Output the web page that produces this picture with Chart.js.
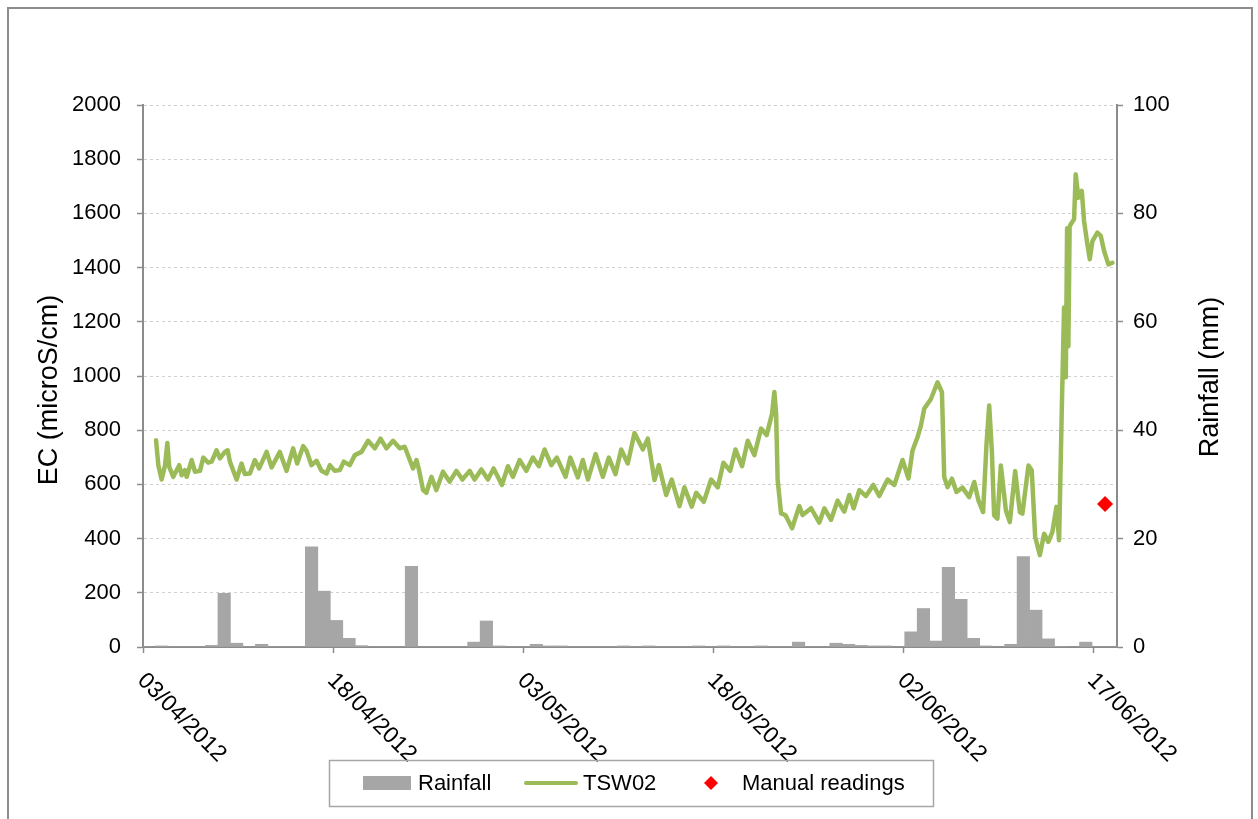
<!DOCTYPE html>
<html>
<head>
<meta charset="utf-8">
<title>TSW02 EC and rainfall</title>
<script src="https://cdn.jsdelivr.net/npm/chart.js@4.4.1/dist/chart.umd.min.js"></script>
<style>
  html, body { margin: 0; padding: 0; background: #fff; }
  #wrap { width: 1258px; height: 819px; position: relative; }
</style>
</head>
<body>
<div id="wrap"><canvas id="chart" width="1258" height="819"></canvas></div>
<script>
// ---- data -------------------------------------------------------------
// Date axis: days counted from 03/04/2012 00:00, one tick label every 15 days.
const tickStep = 15;
const tickLabels = ['03/04/2012', '18/04/2012', '03/05/2012', '18/05/2012', '02/06/2012', '17/06/2012'];
const axisEndDay = 76.89;

// Daily rainfall (mm), 03/04/2012 .. 19/06/2012
const rainfall = [
  0, 0.2, 0, 0, 0, 0.3, 9.9, 0.7, 0, 0.5,
  0, 0, 0, 18.5, 10.3, 4.9, 1.6, 0.25, 0, 0,
  0, 14.9, 0, 0, 0, 0, 0.9, 4.8, 0.2, 0,
  0, 0.5, 0.2, 0.2, 0, 0, 0, 0, 0.2, 0,
  0.2, 0, 0, 0, 0.2, 0, 0.2, 0, 0, 0.2,
  0, 0, 0.9, 0, 0, 0.7, 0.5, 0.3, 0.2, 0.2,
  0, 2.8, 7.1, 1.1, 14.7, 8.8, 1.6, 0.2, 0, 0.5,
  16.7, 6.8, 1.5, 0.1, 0, 0.9, 0, 0
];

// TSW02 logger: time (days from 03/04/2012) and EC (microS/cm)
const tswDay = [
  1.03, 1.21, 1.47, 1.74, 1.92, 2.07, 2.39, 2.86, 3.05, 3.31,
  3.45, 3.84, 4.10, 4.50, 4.76, 5.15, 5.42, 5.81, 6.07, 6.47,
  6.68, 6.86, 7.39, 7.78, 8.04, 8.44, 8.83, 9.17, 9.76, 10.15,
  10.80, 11.33, 11.85, 12.17, 12.64, 12.91, 13.30, 13.70, 14.09, 14.49,
  14.75, 15.14, 15.54, 15.85, 16.32, 16.72, 17.25, 17.77, 18.30, 18.75,
  19.22, 19.74, 20.27, 20.66, 21.06, 21.32, 21.59, 21.79, 22.11, 22.37,
  22.77, 23.16, 23.68, 24.21, 24.74, 25.21, 25.79, 26.18, 26.71, 27.23,
  27.68, 28.34, 28.81, 29.20, 29.73, 30.26, 30.78, 31.25, 31.70, 32.23,
  32.67, 33.36, 33.73, 34.33, 34.72, 35.12, 35.73, 36.30, 36.77, 37.30,
  37.75, 38.27, 38.80, 39.46, 39.85, 40.12, 40.38, 40.72, 41.30, 41.74,
  42.35, 42.74, 43.32, 43.67, 44.27, 44.85, 45.37, 45.82, 46.35, 46.77,
  47.29, 47.74, 48.26, 48.79, 49.23, 49.66, 49.84, 49.98, 50.10, 50.37,
  50.71, 51.24, 51.81, 52.07, 52.74, 53.39, 53.79, 54.31, 54.83, 55.36,
  55.76, 56.10, 56.55, 57.07, 57.65, 58.12, 58.78, 59.31, 59.96, 60.43,
  60.75, 61.14, 61.41, 61.67, 62.20, 62.72, 63.07, 63.25, 63.51, 63.86,
  64.22, 64.69, 65.22, 65.62, 65.95, 66.32, 66.59, 66.80, 67.01, 67.19,
  67.45, 67.72, 68.12, 68.43, 68.85, 69.22, 69.42, 69.90, 70.16, 70.43,
  70.80, 71.14, 71.47, 71.79, 72.11, 72.32, 72.53, 72.71, 72.85, 72.95,
  73.05, 73.15, 73.24, 73.50, 73.63, 73.84, 74.11, 74.29, 74.55, 74.74,
  74.95, 75.34, 75.61, 75.87, 76.21, 76.53
];
const tswEC = [
  763, 671, 618, 671, 753, 665, 628, 671, 634, 653,
  628, 690, 647, 650, 699, 680, 684, 726, 696, 720,
  726, 684, 618, 677, 638, 640, 690, 659, 720, 663,
  720, 650, 733, 677, 741, 724, 671, 687, 650, 640,
  671, 650, 653, 684, 671, 708, 720, 761, 733, 769,
  733, 761, 733, 739, 690, 659, 690, 653, 579, 569,
  628, 579, 647, 610, 650, 618, 650, 618, 655, 618,
  659, 598, 667, 628, 690, 650, 699, 667, 729, 671,
  699, 628, 699, 626, 690, 618, 712, 628, 699, 638,
  729, 677, 790, 729, 769, 690, 616, 671, 561, 618,
  520, 589, 518, 569, 536, 618, 589, 680, 650, 729,
  667, 761, 708, 806, 782, 861, 941, 861, 616, 493,
  487, 438, 520, 487, 512, 459, 512, 469, 540, 500,
  561, 512, 579, 557, 598, 557, 618, 598, 690, 622,
  725, 774, 817, 879, 915, 977, 940, 627, 590, 621,
  572, 588, 553, 609, 541, 498, 750, 891, 725, 486,
  474, 670, 504, 461, 649, 498, 492, 670, 652, 406,
  339, 418, 388, 425, 517, 394, 872, 1253, 995, 1545,
  1110, 1550, 1560, 1578, 1744, 1658, 1683, 1572, 1486, 1431,
  1498, 1529, 1517, 1461, 1412, 1418
];

// Manual field reading
const manualDay = [75.95];
const manualEC = [528];

// ---- helpers ------------------------------------------------------------
const FONT = '"Liberation Sans", Arial, sans-serif';
const AXIS_GREY = '#8c8c8c';
const COL_RAIN = '#a6a6a6';
const COL_TSW = '#9bbb59';
const COL_MANUAL = '#ff0000';

const pad2 = n => String(n).padStart(2, '0');
const rainDates = rainfall.map((_, i) => {
  const d = new Date(2012, 3, 3 + i);
  return pad2(d.getDate()) + '/' + pad2(d.getMonth() + 1) + '/' + d.getFullYear();
});
const tswPoints = tswDay.map((d, i) => ({ x: d, y: tswEC[i] }));
const manualPoints = manualDay.map((d, i) => ({ x: d, y: manualEC[i] }));
const plainNumber = v => String(v);

// Rotated date labels, axis titles, boxed legend and outer frame
const decorations = {
  id: 'decorations',
  beforeDraw(chart) {
    const ctx = chart.ctx;
    ctx.save();
    ctx.fillStyle = '#fff';
    ctx.fillRect(0, 0, chart.width, chart.height);
    ctx.restore();
  },
  afterDraw(chart) {
    const ctx = chart.ctx;
    const xs = chart.scales.x;
    const area = chart.chartArea;

    // date labels, running down to the right from each tick
    ctx.save();
    ctx.font = '23px ' + FONT;
    ctx.fillStyle = '#000';
    ctx.textAlign = 'left';
    ctx.textBaseline = 'middle';
    tickLabels.forEach((lab, i) => {
      const px = xs.getPixelForValue(i * tickStep);
      ctx.save();
      ctx.translate(px - 2, area.bottom + 30);
      ctx.rotate(Math.PI / 4);
      ctx.fillText(lab, 0, 0);
      ctx.restore();
    });
    ctx.restore();

    // axis titles, both reading bottom to top
    ctx.save();
    ctx.font = '27px ' + FONT;
    ctx.fillStyle = '#000';
    ctx.textAlign = 'center';
    ctx.textBaseline = 'middle';
    ctx.save();
    ctx.translate(50, 390);
    ctx.rotate(-Math.PI / 2);
    ctx.fillText('EC (microS/cm)', 0, 0);
    ctx.restore();
    ctx.save();
    ctx.translate(1211, 377);
    ctx.rotate(-Math.PI / 2);
    ctx.fillText('Rainfall (mm)', 0, 0);
    ctx.restore();
    ctx.restore();

    // legend
    const ly = 783;
    ctx.save();
    ctx.strokeStyle = '#a6a6a6';
    ctx.lineWidth = 1.5;
    ctx.strokeRect(329.5, 760.5, 604, 46);
    ctx.font = '22px ' + FONT;
    ctx.fillStyle = '#000';
    ctx.textAlign = 'left';
    ctx.textBaseline = 'middle';

    ctx.fillStyle = COL_RAIN;
    ctx.fillRect(363, ly - 7, 48, 14);
    ctx.fillStyle = '#000';
    ctx.fillText('Rainfall', 418, ly + 1);

    ctx.strokeStyle = COL_TSW;
    ctx.lineWidth = 4;
    ctx.lineCap = 'round';
    ctx.beginPath();
    ctx.moveTo(526, ly);
    ctx.lineTo(576, ly);
    ctx.stroke();
    ctx.fillText('TSW02', 583, ly + 1);

    ctx.fillStyle = COL_MANUAL;
    ctx.beginPath();
    ctx.moveTo(711, ly - 7);
    ctx.lineTo(718, ly);
    ctx.lineTo(711, ly + 7);
    ctx.lineTo(704, ly);
    ctx.closePath();
    ctx.fill();
    ctx.fillStyle = '#000';
    ctx.fillText('Manual readings', 742, ly + 1);
    ctx.restore();

    // outer frame
    ctx.save();
    ctx.strokeStyle = AXIS_GREY;
    ctx.lineWidth = 2;
    ctx.strokeRect(8, 8, 1244, 900);
    ctx.restore();
  }
};

Chart.defaults.font.family = FONT;
Chart.defaults.color = '#000';

new Chart(document.getElementById('chart'), {
  type: 'line',
  data: {
    datasets: [
      {
        type: 'line',
        label: 'Manual readings',
        data: manualPoints,
        xAxisID: 'x',
        yAxisID: 'y',
        showLine: false,
        pointStyle: 'rectRot',
        pointRadius: 8,
        pointBackgroundColor: COL_MANUAL,
        pointBorderColor: COL_MANUAL,
        pointBorderWidth: 0,
        order: 0
      },
      {
        type: 'line',
        label: 'TSW02',
        data: tswPoints,
        xAxisID: 'x',
        yAxisID: 'y',
        borderColor: COL_TSW,
        borderWidth: 4.5,
        pointRadius: 0,
        tension: 0,
        borderJoinStyle: 'round',
        borderCapStyle: 'round',
        fill: false,
        order: 1
      },
      {
        type: 'bar',
        label: 'Rainfall',
        data: rainfall,
        xAxisID: 'xRain',
        yAxisID: 'y2',
        backgroundColor: COL_RAIN,
        borderWidth: 0,
        grouped: false,
        barPercentage: 1,
        categoryPercentage: 1,
        order: 2
      }
    ]
  },
  options: {
    responsive: false,
    animation: false,
    devicePixelRatio: 1,
    layout: { padding: { top: 105, left: 0, right: 0, bottom: 0 } },
    plugins: {
      legend: { display: false },
      tooltip: { enabled: false },
      title: { display: false }
    },
    scales: {
      x: {
        type: 'linear',
        position: 'bottom',
        min: 0,
        max: axisEndDay,
        offset: false,
        afterFit: s => { s.height = 172; },
        afterBuildTicks: s => { s.ticks = s.ticks.filter(t => t.value % tickStep === 0); },
        ticks: { stepSize: tickStep, display: false, includeBounds: false },
        grid: { display: true, drawOnChartArea: false, drawTicks: true, tickLength: 6, tickColor: AXIS_GREY, tickWidth: 1.5, offset: false },
        border: { display: true, color: AXIS_GREY, width: 2 }
      },
      xRain: {
        type: 'category',
        labels: rainDates,
        position: 'bottom',
        offset: true,
        display: false,
        grid: { offset: true }
      },
      y: {
        type: 'linear',
        position: 'left',
        min: 0,
        max: 2000,
        afterFit: s => { s.width = 143; },
        ticks: { stepSize: 200, padding: 16, color: '#000', font: { size: 22, family: FONT }, callback: plainNumber },
        grid: { color: '#d0d0d0', lineWidth: 1, drawTicks: true, tickLength: 6, tickColor: AXIS_GREY, tickWidth: 1.5 },
        border: { display: true, color: AXIS_GREY, width: 2, dash: [3, 3] }
      },
      y2: {
        type: 'linear',
        position: 'right',
        min: 0,
        max: 100,
        afterFit: s => { s.width = 141; },
        ticks: { stepSize: 20, padding: 10, color: '#000', font: { size: 22, family: FONT }, callback: plainNumber },
        grid: { drawOnChartArea: false, drawTicks: true, tickLength: 6, tickColor: AXIS_GREY, tickWidth: 1.5 },
        border: { display: true, color: AXIS_GREY, width: 2 }
      }
    }
  },
  plugins: [decorations]
});
</script>
</body>
</html>
